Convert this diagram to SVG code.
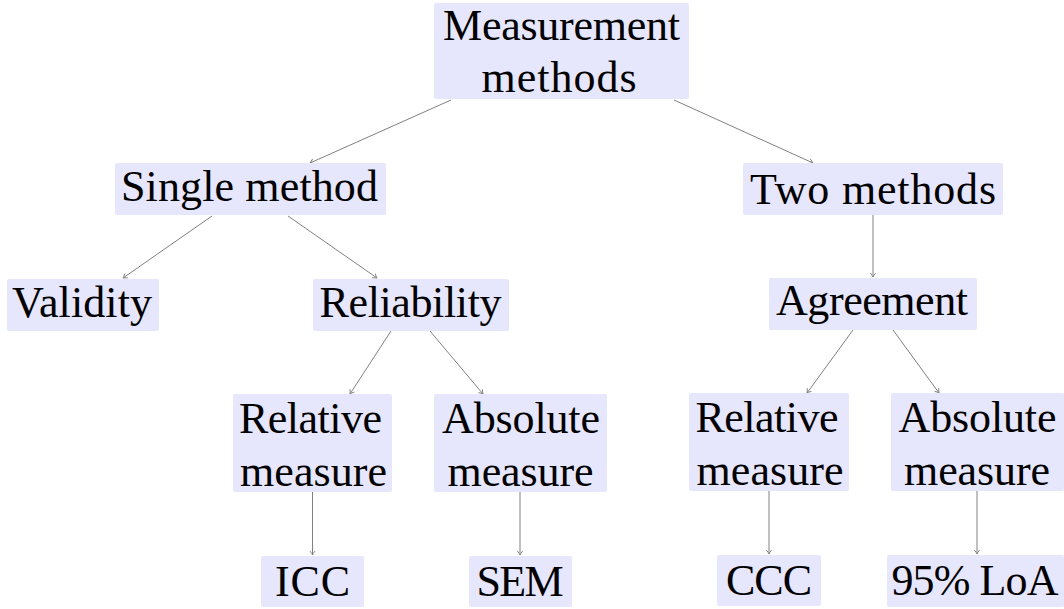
<svg xmlns="http://www.w3.org/2000/svg" width="1064" height="609" viewBox="0 0 1064 609">
<defs>
<style>
.box{fill:#e6e6fd;stroke:none}
.c{stroke:#808080;stroke-width:1;fill:none;marker-end:url(#arr)}
.t{font-family:'Liberation Serif',serif;font-size:44px;fill:#000;text-anchor:middle}
</style>
<marker id="arr" markerUnits="userSpaceOnUse" markerWidth="10" markerHeight="10" viewBox="-6 -5 8 10" refX="0" refY="0" orient="auto">
<path d="M -4 -2.6 Q -1.5 -0.6 0 0 Q -1.5 0.6 -4 2.6" fill="none" stroke="#808080" stroke-width="0.9"/>
</marker>
</defs>
<rect width="1064" height="609" fill="#fff"/>
<g id="connectors">
<line class="c" x1="451" y1="100" x2="310" y2="163"/>
<line class="c" x1="674" y1="100" x2="813" y2="163"/>
<line class="c" x1="212" y1="216" x2="123" y2="278"/>
<line class="c" x1="288" y1="216" x2="377" y2="278"/>
<line class="c" x1="391" y1="331" x2="350" y2="394"/>
<line class="c" x1="430" y1="331" x2="483" y2="394"/>
<line class="c" x1="312.5" y1="492" x2="312.5" y2="555"/>
<line class="c" x1="520" y1="492" x2="520" y2="555"/>
<line class="c" x1="873" y1="215" x2="873" y2="277"/>
<line class="c" x1="853" y1="330" x2="807" y2="393"/>
<line class="c" x1="893" y1="330" x2="939" y2="393"/>
<line class="c" x1="769" y1="491" x2="769" y2="554"/>
<line class="c" x1="977" y1="491" x2="977" y2="554"/>
</g>
<g id="measurement-methods">
<rect class="box" x="434" y="3" width="255" height="96" rx="2"/>
<text class="t" x="561.5" y="39.5" textLength="237" lengthAdjust="spacing">Measurement</text>
<text class="t" x="559" y="92" textLength="155" lengthAdjust="spacing">methods</text>
</g>
<g id="single-method">
<rect class="box" x="115" y="163" width="271" height="52" rx="2"/>
<text class="t" x="249.5" y="200.5" textLength="257" lengthAdjust="spacing">Single method</text>
</g>
<g id="two-methods">
<rect class="box" x="743" y="163" width="260" height="52" rx="2"/>
<text class="t" x="873" y="204" textLength="246" lengthAdjust="spacing">Two methods</text>
</g>
<g id="validity">
<rect class="box" x="7" y="279" width="152" height="52" rx="2"/>
<text class="t" x="82" y="316.5" textLength="140" lengthAdjust="spacing">Validity</text>
</g>
<g id="reliability">
<rect class="box" x="313" y="279" width="196" height="52" rx="2"/>
<text class="t" x="410.5" y="316.5" textLength="182" lengthAdjust="spacing">Reliability</text>
</g>
<g id="agreement">
<rect class="box" x="769" y="278" width="208" height="52" rx="2"/>
<text class="t" x="872" y="315" textLength="192" lengthAdjust="spacing">Agreement</text>
</g>
<g id="relative-measure-1">
<rect class="box" x="233" y="394" width="159" height="98" rx="2"/>
<text class="t" x="310.5" y="432.5" textLength="143" lengthAdjust="spacing">Relative</text>
<text class="t" x="313.5" y="485.5" textLength="147" lengthAdjust="spacing">measure</text>
</g>
<g id="absolute-measure-1">
<rect class="box" x="434" y="394" width="173" height="98" rx="2"/>
<text class="t" x="521" y="432.5" textLength="158" lengthAdjust="spacing">Absolute</text>
<text class="t" x="520.5" y="485.5" textLength="146" lengthAdjust="spacing">measure</text>
</g>
<g id="relative-measure-2">
<rect class="box" x="689" y="393" width="160" height="98" rx="2"/>
<text class="t" x="767" y="431.5" textLength="143" lengthAdjust="spacing">Relative</text>
<text class="t" x="770" y="484.5" textLength="147" lengthAdjust="spacing">measure</text>
</g>
<g id="absolute-measure-2">
<rect class="box" x="891" y="393" width="173" height="98" rx="2"/>
<text class="t" x="977.5" y="431.5" textLength="158" lengthAdjust="spacing">Absolute</text>
<text class="t" x="977" y="484.5" textLength="146" lengthAdjust="spacing">measure</text>
</g>
<g id="icc">
<rect class="box" x="261" y="556" width="103" height="51" rx="2"/>
<text class="t" x="312.5" y="596" textLength="75" lengthAdjust="spacing">ICC</text>
</g>
<g id="sem">
<rect class="box" x="469" y="556" width="103" height="51" rx="2"/>
<text class="t" x="520" y="596" textLength="87" lengthAdjust="spacing">SEM</text>
</g>
<g id="ccc">
<rect class="box" x="717" y="555" width="104" height="51" rx="2"/>
<text class="t" x="769" y="595" textLength="86" lengthAdjust="spacing">CCC</text>
</g>
<g id="loa">
<rect class="box" x="887" y="555" width="177" height="52" rx="2"/>
<text class="t" x="975" y="595" textLength="167" lengthAdjust="spacing">95% LoA</text>
</g>
</svg>
